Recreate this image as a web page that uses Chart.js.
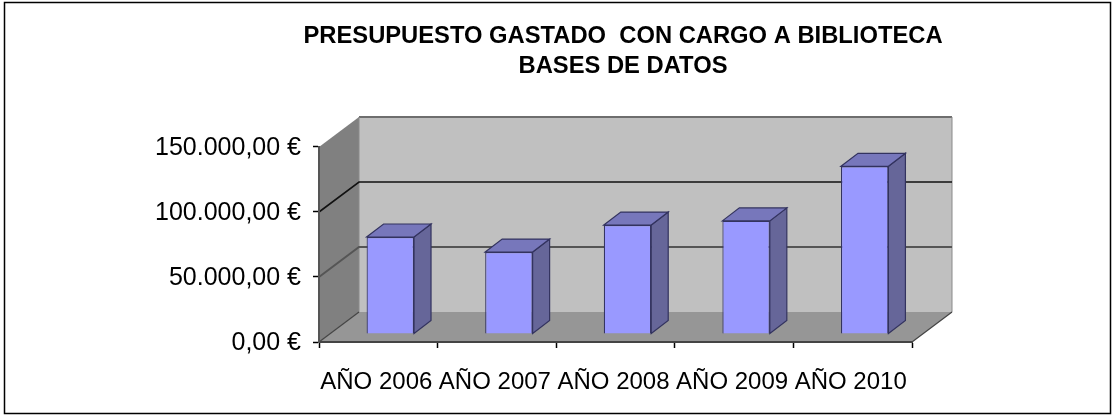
<!DOCTYPE html>
<html><head><meta charset="utf-8">
<style>html,body{margin:0;padding:0;background:#fff}canvas{display:block}</style>
<script src="https://cdn.jsdelivr.net/npm/chart.js@4"></script>
</head><body>
<div style="width:1115px;height:418px;position:relative"><canvas id="c"></canvas></div>
<script>
const categories = ["AÑO 2006","AÑO 2007","AÑO 2008","AÑO 2009","AÑO 2010"];
const presupuesto = [74600, 63000, 83800, 87000, 129000];
const yTickValues = [0, 50000, 100000, 150000];
const yTickLabels = ["0,00 €","50.000,00 €","100.000,00 €","150.000,00 €"];
const titleLines = ["PRESUPUESTO GASTADO  CON CARGO A BIBLIOTECA","BASES DE DATOS"];

const wall = {dx:40, dy:-30};
const barShift = {dx:12, dy:-8};
const barDepth = {dx:17, dy:-13};

function poly(ctx, pts, fill, stroke, lw){
  ctx.beginPath();
  pts.forEach((p,i)=> i?ctx.lineTo(p[0],p[1]):ctx.moveTo(p[0],p[1]));
  ctx.closePath();
  if(fill){ctx.fillStyle=fill;ctx.fill();}
  if(stroke){ctx.strokeStyle=stroke;ctx.lineWidth=lw||1;ctx.stroke();}
}
const scene = {
  id:'scene',
  afterLayout(chart){ chart.titleBlock.left += 167; chart.titleBlock.right += 167; },
  beforeDraw(chart){
    const {ctx, chartArea:a, scales:{y}} = chart;
    ctx.save();
    ctx.strokeStyle='#000';ctx.lineWidth=1.5;
    ctx.strokeRect(4.5,2.5,1106,411);
    const L=a.left,R=a.right,T=a.top,B=a.bottom,dx=wall.dx,dy=wall.dy;
    poly(ctx,[[L+dx,T+dy],[R+dx,T+dy],[R+dx,B+dy],[L+dx,B+dy]],'#c0c0c0');
    poly(ctx,[[L,T],[L+dx,T+dy],[L+dx,B+dy],[L,B]],'#808080');
    poly(ctx,[[L,B],[R,B],[R+dx,B+dy],[L+dx,B+dy]],'#969696');
    ctx.strokeStyle='#6e6e6e';ctx.lineWidth=2;
    ctx.beginPath();ctx.moveTo(L+dx,T+dy);ctx.lineTo(R+dx,T+dy);ctx.stroke();
    ctx.lineWidth=1;ctx.strokeStyle='#8a8a8a';
    ctx.beginPath();ctx.moveTo(L+dx,T+dy);ctx.lineTo(L+dx,B+dy);ctx.moveTo(R+dx,T+dy);ctx.lineTo(R+dx,B+dy);ctx.stroke();
    yTickValues.forEach((v,i)=>{
      if(i===0||i===yTickValues.length-1) return;
      const py=y.getPixelForValue(v);
      ctx.strokeStyle = i===2?'#111':'#555';
      ctx.lineWidth = i===2?1.6:2;
      ctx.beginPath();ctx.moveTo(L,py);ctx.lineTo(L+dx,py+dy);ctx.lineTo(R+dx,py+dy);ctx.stroke();
    });
    ctx.strokeStyle='#444';ctx.lineWidth=1.2;
    ctx.beginPath();ctx.moveTo(L,B);ctx.lineTo(L+dx,B+dy);ctx.moveTo(R,B);ctx.lineTo(R+dx,B+dy);ctx.stroke();
    ctx.restore();
  },
  beforeDatasetsDraw(chart){
    const ctx=chart.ctx;
    ctx.save();
    ctx.translate(barShift.dx,barShift.dy);
    const dx=barDepth.dx,dy=barDepth.dy;
    chart.getDatasetMeta(0).data.forEach(b=>{
      const l=b.x-b.width/2,r=b.x+b.width/2,t=b.y,bt=b.base;
      poly(ctx,[[r,t],[r+dx,t+dy],[r+dx,bt+dy],[r,bt]],'#666699','#33335f',1.2);
      poly(ctx,[[l,t],[l+dx,t+dy],[r+dx,t+dy],[r,t]],'#7777bb','#33335f',1.2);
    });
  },
  afterDatasetsDraw(chart){ chart.ctx.restore(); }
};
new Chart(document.getElementById('c'),{
  type:'bar',
  data:{labels:categories,datasets:[{data:presupuesto,backgroundColor:'#9999ff',borderColor:'#33335f',borderWidth:1.2,categoryPercentage:1,barPercentage:0.4}]},
  options:{
    responsive:true,maintainAspectRatio:false,animation:false,
    layout:{padding:{left:0,right:203,top:0,bottom:0}},
    plugins:{
      legend:{display:false},tooltip:{enabled:false},
      title:{display:true,text:titleLines,color:'#000',
        font:{family:'"Liberation Sans"',size:23.75,weight:'bold',lineHeight:1.263},
        padding:{top:21,bottom:66}}
    },
    scales:{
      x:{
        afterFit(s){s.height=76;},
        border:{color:'#444',width:2},
        grid:{offset:true,drawOnChartArea:false,drawTicks:true,tickLength:6,tickWidth:1.5,color:'#000'},
        ticks:{color:'#000',padding:20,labelOffset:-2,maxRotation:0,autoSkip:false,font:{family:'"Liberation Sans"',size:24}}
      },
      y:{
        min:0,max:150000,
        afterFit(s){s.width=319;},
        border:{color:'#555',width:2},
        grid:{drawOnChartArea:false,drawTicks:true,tickLength:6,tickWidth:1.5,color:'#000'},
        ticks:{color:'#000',padding:12,labelOffset:1,stepSize:50000,font:{family:'"Liberation Sans"',size:25},
          callback(v){return yTickLabels[yTickValues.indexOf(v)];}}
      }
    }
  },
  plugins:[scene]
});
</script>
</body></html>
